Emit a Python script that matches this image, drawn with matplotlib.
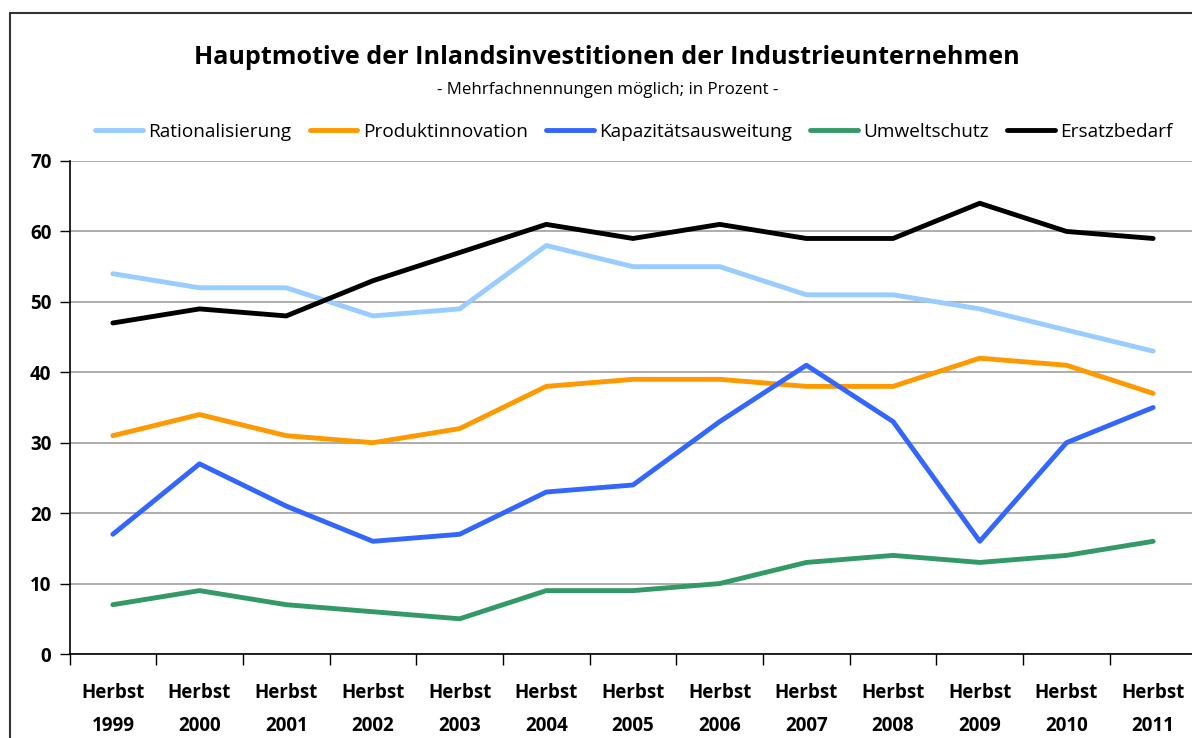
import matplotlib
matplotlib.use("Agg")
import matplotlib.pyplot as plt
from matplotlib.patches import Rectangle
import numpy as np

years = ["1999", "2000", "2001", "2002", "2003", "2004", "2005", "2006",
         "2007", "2008", "2009", "2010", "2011"]
categories = ["Herbst\n" + y for y in years]

rationalisierung = [54, 52, 52, 48, 49, 58, 55, 55, 51, 51, 49, 46, 43]
produktinnovation = [31, 34, 31, 30, 32, 38, 39, 39, 38, 38, 42, 41, 37]
kapazitaet = [17, 27, 21, 16, 17, 23, 24, 33, 41, 33, 16, 30, 35]
umweltschutz = [7, 9, 7, 6, 5, 9, 9, 10, 13, 14, 13, 14, 16]
ersatzbedarf = [47, 49, 48, 53, 57, 61, 59, 61, 59, 59, 64, 60, 59]

series = [
    ("Rationalisierung", rationalisierung, "#99CCFF"),
    ("Produktinnovation", produktinnovation, "#FF9900"),
    ("Kapazitätsausweitung", kapazitaet, "#3366FF"),
    ("Umweltschutz", umweltschutz, "#339966"),
    ("Ersatzbedarf", ersatzbedarf, "#000000"),
]

plt.rcParams['font.family'] = ['Open Sans', 'DejaVu Sans']

W, H = 1192, 738
fig = plt.figure(figsize=(W / 100, H / 100), dpi=100)

# outer border (extends beyond right/bottom)
fig.patches.append(Rectangle((10 / W, -0.1), 1.2, 1 - 13 / H + 0.1,
                             transform=fig.transFigure, fill=False,
                             edgecolor="#333333", linewidth=1.5))

x0, x1 = 69.5, 1196.5
y0, y1 = 654, 161
ax = fig.add_axes([x0 / W, 1 - y0 / H, (x1 - x0) / W, (y0 - y1) / H])

x = np.arange(len(categories))
for name, vals, col in series:
    ax.plot(x, vals, color=col, linewidth=3.5, label=name, solid_capstyle='round',
            solid_joinstyle='round', clip_on=False)

ax.set_xlim(-0.5, len(categories) - 0.5)
ax.set_ylim(0, 70)
ax.set_yticks(range(0, 71, 10))
ax.set_yticklabels([str(v) for v in range(0, 71, 10)], fontsize=13.5, fontweight='bold')
ax.yaxis.grid(True, color="#A0A0A0", linewidth=1.2)
ax.set_axisbelow(True)

ax.set_xticks(x)
ax.set_xticklabels(categories, fontsize=13.5, fontweight='bold', linespacing=1.85)
ax.tick_params(axis='x', which='major', length=0, pad=21)
ax.set_xticks(np.arange(-0.5, len(categories), 1), minor=True)
ax.tick_params(axis='x', which='minor', length=8, width=1, color="black", direction='out')
ax.tick_params(axis='y', length=7, width=1, color="black", direction='out', pad=6)

for s in ['top', 'right']:
    ax.spines[s].set_visible(False)
ax.spines['left'].set_linewidth(1.2)
ax.spines['bottom'].set_linewidth(1.2)

fig.text(607 / W, 1 - 58 / H, "Hauptmotive der Inlandsinvestitionen der Industrieunternehmen",
         ha='center', va='center', fontsize=18.1, fontweight='bold')
fig.text(608 / W, 1 - 90 / H, "- Mehrfachnennungen möglich; in Prozent -",
         ha='center', va='center', fontsize=12.2)

handles, labels = ax.get_legend_handles_labels()
fig.legend(handles, labels, loc='center', bbox_to_anchor=(634 / W, 1 - 132 / H),
           ncol=5, frameon=False, fontsize=13.7, handlelength=2.5, columnspacing=0.95,
           handletextpad=0.3)

fig.savefig("out.png", dpi=100)
